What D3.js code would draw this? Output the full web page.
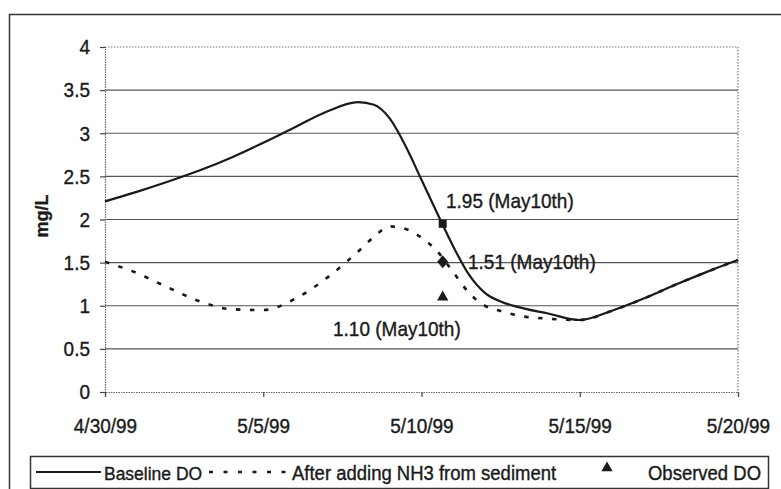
<!DOCTYPE html>
<html>
<head>
<meta charset="utf-8">
<script src="https://cdn.jsdelivr.net/npm/d3@7"></script>
<style>
  html, body { margin: 0; padding: 0; background: #fff; }
  svg { display: block; font-family: "Liberation Sans", Arial, sans-serif; }
  text.stretch { transform-box: fill-box; transform-origin: center; transform: scaleY(1.1); }
</style>
</head>
<body>
<svg id="chart" width="781" height="489"></svg>
<script>
// ---- data ----
const startDate = "1999-04-30";
const days = [0, 1, 2, 3, 4, 5, 6, 7, 8, 8.5, 9, 9.5, 10, 10.5, 11, 11.5, 12, 12.5, 13, 14, 15, 16, 17, 18, 19, 20];
const baselineDO = [2.21, 2.32, 2.44, 2.57, 2.72, 2.89, 3.07, 3.25, 3.36, 3.33, 3.17, 2.85, 2.46, 2.07, 1.69, 1.36, 1.15, 1.05, 0.99, 0.91, 0.835, 0.94, 1.08, 1.24, 1.39, 1.53];
const nh3DO      = [1.51, 1.38, 1.21, 1.05, 0.96, 0.95, 1.08, 1.32, 1.63, 1.80, 1.92, 1.89, 1.79, 1.63, 1.39, 1.15, 1.00, 0.94, 0.89, 0.85, 0.835, 0.94, 1.08, 1.24, 1.39, 1.53];
const markerDay = 10.67;
const markerValues = [1.95, 1.51, 1.10];
const markerLabels = ["1.95 (May10th)", "1.51 (May10th)", "1.10 (May10th)"];
const xTickDays = [0, 5, 10, 15, 20];
const xTickLabels = ["4/30/99", "5/5/99", "5/10/99", "5/15/99", "5/20/99"];
const yTicks = [0, 0.5, 1, 1.5, 2, 2.5, 3, 3.5, 4];
const legendLabels = ["Baseline DO", "After adding NH3 from sediment", "Observed DO"];

// ---- setup ----
const svg = d3.select("#chart");
const t0 = new Date(startDate + "T00:00:00Z");
const toDate = d => new Date(t0.getTime() + d * 864e5);
const x = d3.scaleUtc().domain([toDate(0), toDate(20)]).range([105, 738]);
const y = d3.scaleLinear().domain([0, 4]).range([392, 47]);
const ink = "#1a1a1a";
const fs = 19;

// outer frame
svg.append("path").attr("d", "M9.5,489 L9.5,14.5 L781,14.5")
  .attr("fill", "none").attr("stroke", "#333").attr("stroke-width", 1.5);

// gridlines
svg.append("g").selectAll("line").data(yTicks.filter(v => v > 0 && v < 4)).join("line")
  .attr("x1", 105).attr("x2", 738)
  .attr("y1", d => y(d)).attr("y2", d => y(d))
  .attr("stroke", "#555").attr("stroke-width", 1.2);

// plot border (dotted) top and right
svg.append("path")
  .attr("d", `M${x.range()[0]},${y(4)} L${x.range()[1]},${y(4)} L${x.range()[1]},${y(0)}`)
  .attr("fill", "none").attr("stroke", "#777").attr("stroke-width", 1.2).attr("stroke-dasharray", "1.5,1.5");

// y axis
const yAxis = d3.axisLeft(y).tickValues(yTicks).tickSize(5).tickPadding(10)
  .tickFormat(d3.format("~g"));
const gy = svg.append("g").attr("transform", `translate(105,0)`).call(yAxis);
gy.select(".domain").attr("stroke", "#666").attr("stroke-width", 1.2).attr("stroke-dasharray", "1.5,1");
gy.selectAll(".tick line").attr("stroke", "#444").attr("stroke-width", 1.2);
gy.selectAll(".tick text").attr("font-size", fs).attr("fill", ink).attr("font-family", "Liberation Sans, Arial, sans-serif");

// x axis
const xAxis = d3.axisBottom(x).tickValues(xTickDays.map(toDate)).tickSize(5).tickPadding(22)
  .tickFormat((d, i) => xTickLabels[i]);
const gx = svg.append("g").attr("transform", `translate(0,${y(0)})`).call(xAxis);
gx.select(".domain").attr("stroke", "#666").attr("stroke-width", 1.2).attr("stroke-dasharray", "1.5,1");
gx.selectAll(".tick line").attr("stroke", "#444").attr("stroke-width", 1.2);
gx.selectAll(".tick text").attr("font-size", fs).attr("fill", ink).attr("font-family", "Liberation Sans, Arial, sans-serif");

// y label
svg.append("text").attr("transform", `translate(48,216) rotate(-90)`)
  .attr("text-anchor", "middle").attr("font-size", 18).attr("font-weight", "bold").attr("fill", ink)
  .text("mg/L");

// lines
const line = d3.line().x(d => x(toDate(d[0]))).y(d => y(d[1])).curve(d3.curveMonotoneX);
svg.append("path").datum(days.map((d, i) => [d, nh3DO[i]]))
  .attr("d", line).attr("fill", "none").attr("stroke", ink).attr("stroke-width", 2.6)
  .attr("stroke-dasharray", "4.5,9.5");
svg.append("path").datum(days.map((d, i) => [d, baselineDO[i]]))
  .attr("d", line).attr("fill", "none").attr("stroke", ink).attr("stroke-width", 2.2);

// markers
const mx = x(toDate(markerDay));
const sym = [d3.symbolSquare, d3.symbolDiamond, d3.symbolTriangle];
const symSize = [64, 50, 55];
const symScale = ["scale(1,1)", "scale(1.45,1)", "scale(1,1)"];
markerValues.forEach((v, i) => {
  svg.append("path").attr("d", d3.symbol().type(sym[i]).size(symSize[i])())
    .attr("transform", `translate(${mx},${y(v)}) ${symScale[i]}`).attr("fill", ink);
});

// annotations
const annPos = [[446, 207], [468, 268], [333, 335]];
markerLabels.forEach((t, i) => {
  svg.append("text").attr("x", annPos[i][0]).attr("y", annPos[i][1])
    .attr("font-size", fs).attr("fill", ink).text(t);
});

// legend
svg.append("rect").attr("x", 30.5).attr("y", 456.5).attr("width", 738).attr("height", 32)
  .attr("fill", "#fff").attr("stroke", "#333").attr("stroke-width", 1.5);
const ly = 472;
svg.append("line").attr("x1", 36).attr("x2", 101).attr("y1", ly).attr("y2", ly)
  .attr("stroke", ink).attr("stroke-width", 2.2);
svg.append("text").attr("x", 104).attr("y", 479).attr("font-size", 17.5).attr("fill", ink).text(legendLabels[0]);
svg.append("line").attr("x1", 209).attr("x2", 289).attr("y1", ly).attr("y2", ly)
  .attr("stroke", ink).attr("stroke-width", 2.6).attr("stroke-dasharray", "4,10.5");
svg.append("text").attr("x", 292).attr("y", 479).attr("font-size", 18.5).attr("fill", ink).text(legendLabels[1]);
svg.append("path").attr("d", d3.symbol().type(d3.symbolTriangle).size(55)())
  .attr("transform", `translate(607,${ly - 4})`).attr("fill", ink);
svg.append("text").attr("x", 648).attr("y", 479).attr("font-size", 18.5).attr("fill", ink).text(legendLabels[2]);

// slightly taller, darker text like the scanned original
svg.selectAll("text").filter(function () { return !this.getAttribute("transform"); })
  .classed("stretch", true)
  .attr("stroke", ink).attr("stroke-width", 0.35);
svg.selectAll("text").filter(function () { return !!this.getAttribute("transform"); })
  .attr("stroke", ink).attr("stroke-width", 0.3);
</script>
</body>
</html>
